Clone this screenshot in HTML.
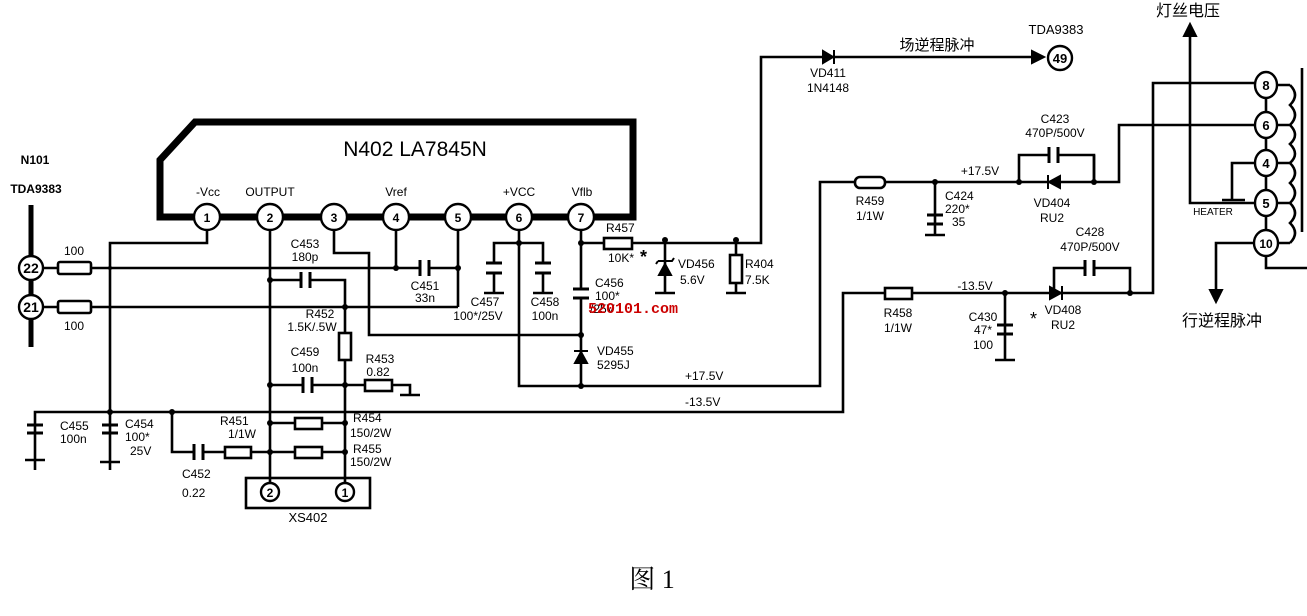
<!DOCTYPE html>
<html><head><meta charset="utf-8"><style>
html,body{margin:0;padding:0;background:#fff;}
svg{display:block;}
text{font-family:"Liberation Sans","Noto Sans CJK SC",sans-serif;font-size:12px;fill:#000;}
.c{text-anchor:middle;}
</style></head><body>
<svg width="1307" height="616" viewBox="0 0 1307 616" xmlns="http://www.w3.org/2000/svg">
<g stroke="#000" stroke-width="2.6" fill="none">
<path d="M195 122 L633 122 L633 217 L160 217 L160 160 Z" stroke-width="7"/>
<line x1="31" y1="205" x2="31" y2="347" stroke-width="5"/>
<line x1="43" y1="268" x2="458" y2="268"/>
<line x1="43" y1="307" x2="458" y2="307"/>
<path d="M207 217 V243 H110 V470"/>
<line x1="270" y1="217" x2="270" y2="482"/>
<path d="M334 217 V253 H369 V335 H581"/>
<line x1="396" y1="217" x2="396" y2="268"/>
<line x1="458" y1="217" x2="458" y2="307"/>
<path d="M519 217 V386 H820 V182 H1094 V155"/>
<path d="M494 262 V243 H543 V262"/>
<line x1="494" y1="273" x2="494" y2="293"/><line x1="543" y1="273" x2="543" y2="293"/>
<line x1="484" y1="293" x2="504" y2="293"/><line x1="533" y1="293" x2="553" y2="293"/>
<path d="M581 217 V289"/><path d="M581 298 V386"/>
<path d="M581 243 H761 V57 H1042"/>
<line x1="665" y1="240" x2="665" y2="293"/><line x1="655" y1="293" x2="675" y2="293"/>
<line x1="736" y1="240" x2="736" y2="293"/><line x1="726" y1="293" x2="746" y2="293"/>
<path d="M270 280 H345 V482"/>
<line x1="270" y1="385" x2="345" y2="385"/>
<path d="M345 385 H410 V395 M400 395 H420"/>
<path d="M35 470 V412 H843 V293 H1153 V83 H1255"/>
<path d="M1019 182 V155 H1094 V182 H1119 V125 H1255"/>
<path d="M1054 293 V268 H1130 V293"/>
<line x1="935" y1="182" x2="935" y2="235"/><line x1="925" y1="235" x2="945" y2="235"/>
<line x1="1005" y1="293" x2="1005" y2="360"/><line x1="995" y1="360" x2="1015" y2="360"/>
<path d="M172 412 V452 H270"/>
<line x1="270" y1="423" x2="345" y2="423"/>
<line x1="270" y1="452" x2="345" y2="452"/>
<line x1="25" y1="460" x2="45" y2="460"/><line x1="100" y1="462" x2="120" y2="462"/>
<line x1="1266" y1="85" x2="1266" y2="243"/>
<path d="M1255 203 H1190 V35"/>
<path d="M1255 163 H1232 V200 M1222 200 H1245"/>
<path d="M1255 243 H1216 V292"/>
<path d="M1266 255 V268 H1307"/>
<path d="M1277 85 H1290 M1277 125 H1290 M1277 163 H1290 M1277 203 H1290 M1277 243 H1290"/>
<path d="M1290 85 q10 10 0 20 q10 10 0 20 q10 10 0 19 q10 10 0 19 q10 10 0 20 q10 10 0 20 q10 10 0 20 q10 10 0 20"/>
<line x1="1302" y1="68" x2="1302" y2="232"/>
</g>
<g stroke="#000" stroke-width="2.6" fill="#fff">
<rect x="58" y="262" width="33" height="12" rx="2"/>
<rect x="58" y="301" width="33" height="12" rx="2"/>
<rect x="339" y="333" width="12" height="27"/>
<rect x="365" y="380" width="27" height="11"/>
<rect x="225" y="447" width="26" height="11"/>
<rect x="295" y="418" width="27" height="11"/>
<rect x="295" y="447" width="27" height="11"/>
<rect x="604" y="238" width="28" height="11"/>
<rect x="730" y="255" width="12" height="28"/>
<rect x="855" y="177" width="30" height="11" rx="5"/>
<rect x="885" y="288" width="27" height="11"/>
<rect x="246" y="478" width="124" height="30" fill="none"/>
</g>
<g fill="#fff" stroke="none">
<rect x="420" y="262" width="9" height="12"/>
<rect x="301" y="274" width="9" height="12"/>
<rect x="303" y="379" width="9" height="12"/>
<rect x="194" y="446" width="9" height="12"/>
<rect x="1049" y="149" width="9" height="12"/>
<rect x="1085" y="262" width="9" height="12"/>
</g>
<g stroke="#000" stroke-width="3">
<path d="M420 260 V276 M429 260 V276"/>
<path d="M301 272 V288 M310 272 V288"/>
<path d="M303 377 V393 M312 377 V393"/>
<path d="M194 444 V460 M203 444 V460"/>
<path d="M1049 147 V163 M1058 147 V163"/>
<path d="M1085 260 V276 M1094 260 V276"/>
<path d="M486 263 H502 M486 273 H502 M535 263 H551 M535 273 H551"/>
<path d="M573 289 H589 M573 298 H589"/>
<path d="M927 215 H943 M927 224 H943"/>
<path d="M997 325 H1013 M997 334 H1013"/>
<path d="M27 425 H43 M27 433 H43 M102 425 H118 M102 433 H118"/>
</g>
<g fill="#000" stroke="#000" stroke-width="2">
<path d="M823 51 L823 63 L833 57 Z"/><line x1="834" y1="50" x2="834" y2="64"/>
<path d="M1032 51 L1044 57 L1032 63 Z"/>
<path d="M1060 176 L1060 188 L1049 182 Z"/><line x1="1048" y1="175" x2="1048" y2="189"/>
<path d="M1050 287 L1050 299 L1061 293 Z"/><line x1="1062" y1="286" x2="1062" y2="300"/>
<path d="M575 363 L587 363 L581 352 Z"/><line x1="574" y1="351" x2="588" y2="351"/>
<path d="M659 275 L671 275 L665 264 Z"/><path d="M658 261 H672 L674 258 M658 261 L656 264" fill="none"/>
<path d="M1184 36 L1196 36 L1190 24 Z"/>
<path d="M1210 290 L1222 290 L1216 302 Z"/>
</g>
<g fill="#000">
<circle cx="396" cy="268" r="3"/><circle cx="458" cy="268" r="3"/><circle cx="270" cy="280" r="3"/><circle cx="345" cy="307" r="3"/>
<circle cx="270" cy="385" r="3"/><circle cx="345" cy="385" r="3"/><circle cx="270" cy="423" r="3"/><circle cx="345" cy="423" r="3"/>
<circle cx="270" cy="452" r="3"/><circle cx="345" cy="452" r="3"/><circle cx="110" cy="412" r="3"/><circle cx="172" cy="412" r="3"/>
<circle cx="110" cy="268" r="2"/><circle cx="519" cy="243" r="3"/><circle cx="581" cy="243" r="3"/><circle cx="581" cy="335" r="3"/><circle cx="581" cy="386" r="3"/>
<circle cx="665" cy="240" r="3"/><circle cx="736" cy="240" r="3"/><circle cx="935" cy="182" r="3"/><circle cx="1019" cy="182" r="3"/><circle cx="1094" cy="182" r="3"/>
<circle cx="1005" cy="293" r="3"/><circle cx="1054" cy="293" r="3"/><circle cx="1130" cy="293" r="3"/>
</g>
<g stroke="#000" stroke-width="2.4" fill="#fff">
<circle cx="207" cy="217" r="13"/><circle cx="270" cy="217" r="13"/><circle cx="334" cy="217" r="13"/><circle cx="396" cy="217" r="13"/>
<circle cx="458" cy="217" r="13"/><circle cx="519" cy="217" r="13"/><circle cx="581" cy="217" r="13"/>
<circle cx="31" cy="268" r="12"/><circle cx="31" cy="307" r="12"/>
<circle cx="270" cy="492" r="9"/><circle cx="345" cy="492" r="9"/>
<circle cx="1060" cy="58" r="12"/>
<ellipse cx="1266" cy="85" rx="11" ry="13"/><ellipse cx="1266" cy="125" rx="11" ry="13"/><ellipse cx="1266" cy="163" rx="11" ry="13"/>
<ellipse cx="1266" cy="203" rx="11" ry="13"/><ellipse cx="1266" cy="243" rx="12" ry="13"/>
</g>
<g font-weight="bold">
<text x="207" y="222" class="c">1</text><text x="270" y="222" class="c">2</text><text x="334" y="222" class="c">3</text><text x="396" y="222" class="c">4</text>
<text x="458" y="222" class="c">5</text><text x="519" y="222" class="c">6</text><text x="581" y="222" class="c">7</text>
<text x="31" y="273" class="c" style="font-size:14px">22</text><text x="31" y="312" class="c" style="font-size:14px">21</text>
<text x="270" y="497" class="c">2</text><text x="345" y="497" class="c">1</text>
<text x="1060" y="63" class="c" style="font-size:13px">49</text>
<text x="1266" y="90" class="c" style="font-size:13px">8</text><text x="1266" y="130" class="c" style="font-size:13px">6</text>
<text x="1266" y="168" class="c" style="font-size:13px">4</text><text x="1266" y="208" class="c" style="font-size:13px">5</text>
<text x="1266" y="248" class="c" style="font-size:12px">10</text>
</g>
<text x="415" y="156" class="c" style="font-size:21px">N402  LA7845N</text>
<g font-size="11">
<text x="208" y="196" class="c">-Vcc</text><text x="270" y="196" class="c">OUTPUT</text><text x="396" y="196" class="c">Vref</text>
<text x="519" y="196" class="c">+VCC</text><text x="582" y="196" class="c">Vflb</text>
</g>
<g font-weight="bold" font-size="15">
<text x="35" y="164" class="c">N101</text><text x="36" y="193" class="c">TDA9383</text>
</g>
<g font-size="11.5">
<text x="74" y="255" class="c">100</text><text x="74" y="330" class="c">100</text>
<text x="305" y="248" class="c">C453</text><text x="305" y="261" class="c">180p</text>
<text x="425" y="290" class="c">C451</text><text x="425" y="302" class="c">33n</text>
<text x="320" y="318" class="c">R452</text><text x="312" y="331" class="c">1.5K/.5W</text>
<text x="305" y="356" class="c">C459</text><text x="305" y="372" class="c">100n</text>
<text x="380" y="363" class="c">R453</text><text x="378" y="376" class="c">0.82</text>
<text x="485" y="306" class="c">C457</text><text x="478" y="320" class="c">100*/25V</text>
<text x="545" y="306" class="c">C458</text><text x="545" y="320" class="c">100n</text>
<text x="595" y="287">C456</text><text x="595" y="300">100*</text><text x="590" y="313">/25V</text>
<text x="597" y="355">VD455</text><text x="597" y="369">5295J</text>
<text x="606" y="232">R457</text><text x="608" y="262">10K*</text>
<text x="678" y="268">VD456</text><text x="680" y="284">5.6V</text>
<text x="745" y="268">R404</text><text x="745" y="284">7.5K</text>
<text x="60" y="430">C455</text><text x="60" y="443">100n</text>
<text x="125" y="428">C454</text><text x="125" y="441">100*</text><text x="130" y="455">25V</text>
<text x="182" y="478">C452</text><text x="182" y="497">0.22</text>
<text x="220" y="425">R451</text><text x="228" y="438">1/1W</text>
<text x="353" y="422">R454</text><text x="350" y="437">150/2W</text>
<text x="353" y="453">R455</text><text x="350" y="466">150/2W</text>
<text x="308" y="522" class="c" style="font-size:13px">XS402</text>
<text x="685" y="380">+17.5V</text><text x="685" y="406">-13.5V</text>
<text x="828" y="77" class="c">VD411</text><text x="828" y="92" class="c">1N4148</text>
<text x="1056" y="34" class="c" style="font-size:13px">TDA9383</text>
<text x="980" y="175" class="c">+17.5V</text>
<text x="870" y="205" class="c">R459</text><text x="870" y="220" class="c">1/1W</text>
<text x="945" y="200">C424</text><text x="945" y="213">220*</text><text x="952" y="226">35</text>
<text x="1052" y="207" class="c">VD404</text><text x="1052" y="222" class="c">RU2</text>
<text x="1055" y="123" class="c">C423</text><text x="1055" y="137" class="c">470P/500V</text>
<text x="1090" y="236" class="c">C428</text><text x="1090" y="251" class="c">470P/500V</text>
<text x="975" y="290" class="c">-13.5V</text>
<text x="898" y="317" class="c">R458</text><text x="898" y="332" class="c">1/1W</text>
<text x="983" y="321" class="c">C430</text><text x="983" y="334" class="c">47*</text><text x="983" y="349" class="c">100</text>
<text x="1063" y="314" class="c">VD408</text><text x="1063" y="329" class="c">RU2</text>
<text x="1213" y="215" class="c" style="font-size:10px">HEATER</text>
</g>
<text x="1030" y="325" style="font-size:18px">*</text>
<text x="640" y="263" style="font-size:18px;font-weight:bold">*</text>
<text x="937" y="50" class="c" style="font-size:15px">场逆程脉冲</text>
<text x="1188" y="16" class="c" style="font-size:16px">灯丝电压</text>
<text x="1222" y="326" class="c" style="font-size:16px">行逆程脉冲</text>
<text x="588" y="313" style="font-size:15px;fill:#cc0000;font-family:'Liberation Mono',monospace;font-weight:bold">520101.com</text>
<text x="652" y="588" class="c" style="font-size:26px;font-family:'Liberation Serif','Noto Serif CJK SC',serif">图 1</text>
</svg>
</body></html>
